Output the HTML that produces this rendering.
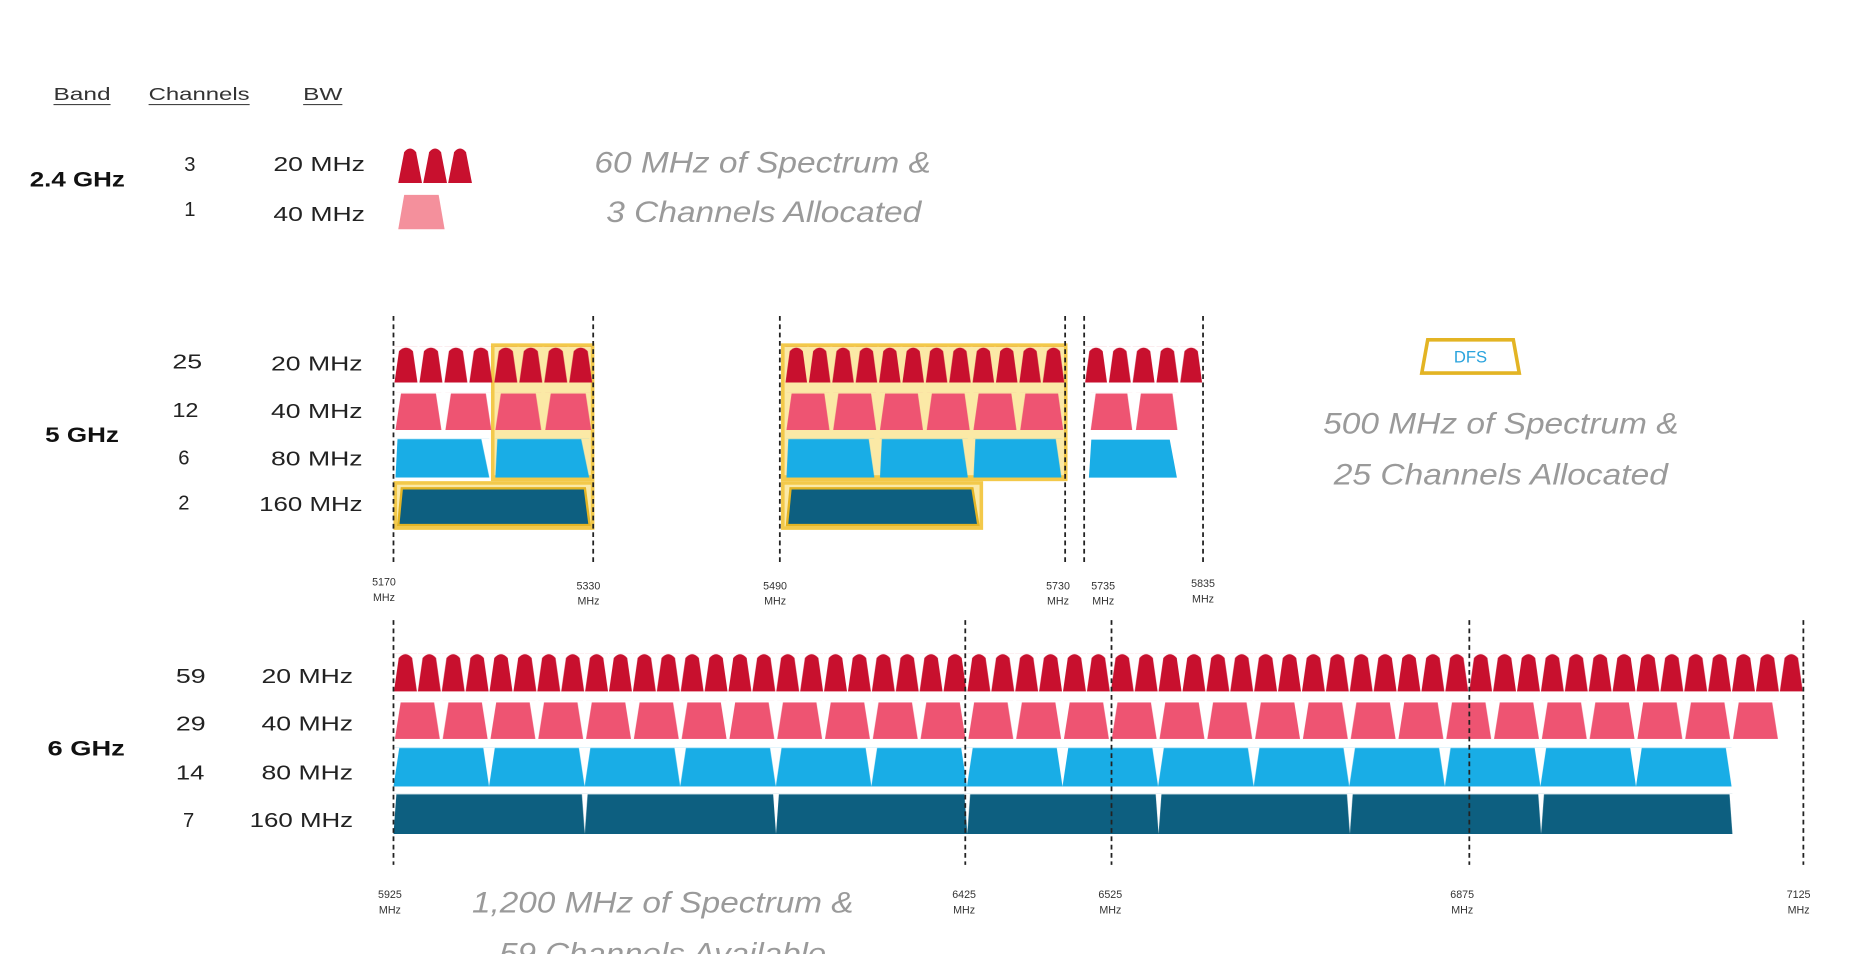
<!DOCTYPE html>
<html><head><meta charset="utf-8"><style>
html,body{margin:0;padding:0;background:#fff;overflow:hidden}
svg{display:block}
text{font-family:"Liberation Sans",Arial,sans-serif}
</style></head><body>
<svg width="1864" height="954" viewBox="0 0 1568 803" preserveAspectRatio="none" xmlns="http://www.w3.org/2000/svg">
<defs>
<pattern id="p6a" patternUnits="userSpaceOnUse" x="331" y="550" width="20.1" height="32" viewBox="0 0 100 100" preserveAspectRatio="none"><path d="M2,100 L22,12 Q50,-8 78,12 L98,100 Z" fill="#c8102e"/></pattern>
<pattern id="p6b" patternUnits="userSpaceOnUse" x="331" y="590" width="40.2" height="32" viewBox="0 0 100 100" preserveAspectRatio="none"><path d="M3,100 L15,4 L85,4 L97,100 Z" fill="#ee5472"/></pattern>
<pattern id="p6c" patternUnits="userSpaceOnUse" x="331" y="629" width="80.4" height="33" viewBox="0 0 100 100" preserveAspectRatio="none"><path d="M0,100 L6,2 L94,2 L100,100 Z" fill="#19ade6"/></pattern>
<pattern id="p6d" patternUnits="userSpaceOnUse" x="331" y="668" width="160.9" height="34" viewBox="0 0 100 100" preserveAspectRatio="none"><path d="M0,100 L1.5,2 L98.5,2 L100,100 Z" fill="#0d5f80"/></pattern>
<pattern id="p1a" patternUnits="userSpaceOnUse" x="331" y="292" width="21" height="30" viewBox="0 0 100 100" preserveAspectRatio="none"><path d="M4,100 L22,12 Q50,-8 78,12 L96,100 Z" fill="#c8102e"/></pattern>
<pattern id="p1b" patternUnits="userSpaceOnUse" x="331" y="330" width="42" height="32" viewBox="0 0 100 100" preserveAspectRatio="none"><path d="M4,100 L15,4 L85,4 L96,100 Z" fill="#ee5472"/></pattern>
<pattern id="p1c" patternUnits="userSpaceOnUse" x="331" y="369" width="84" height="33" viewBox="0 0 100 100" preserveAspectRatio="none"><path d="M2,100 L4,2 L88,2 L96,100 Z" fill="#19ade6"/></pattern>
<pattern id="p2a" patternUnits="userSpaceOnUse" x="660" y="292" width="19.67" height="30" viewBox="0 0 100 100" preserveAspectRatio="none"><path d="M4,100 L22,12 Q50,-8 78,12 L96,100 Z" fill="#c8102e"/></pattern>
<pattern id="p2b" patternUnits="userSpaceOnUse" x="660" y="330" width="39.33" height="32" viewBox="0 0 100 100" preserveAspectRatio="none"><path d="M4,100 L15,4 L85,4 L96,100 Z" fill="#ee5472"/></pattern>
<pattern id="p2c" patternUnits="userSpaceOnUse" x="660" y="369" width="78.67" height="33" viewBox="0 0 100 100" preserveAspectRatio="none"><path d="M2,100 L4,2 L90,2 L96,100 Z" fill="#19ade6"/></pattern>
<pattern id="p3a" patternUnits="userSpaceOnUse" x="912" y="292" width="20" height="30" viewBox="0 0 100 100" preserveAspectRatio="none"><path d="M4,100 L22,12 Q50,-8 78,12 L96,100 Z" fill="#c8102e"/></pattern>
<pattern id="p3b" patternUnits="userSpaceOnUse" x="916" y="330" width="38" height="32" viewBox="0 0 100 100" preserveAspectRatio="none"><path d="M4,100 L15,4 L85,4 L96,100 Z" fill="#ee5472"/></pattern>
</defs>

<g font-size="15" fill="#333" lengthAdjust="spacingAndGlyphs">
<text x="45" y="84" textLength="48" lengthAdjust="spacingAndGlyphs">Band</text><line x1="45" y1="88" x2="93" y2="88" stroke="#444"/>
<text x="125" y="84" textLength="85" lengthAdjust="spacingAndGlyphs">Channels</text><line x1="125" y1="88" x2="210" y2="88" stroke="#444"/>
<text x="255" y="84" textLength="33" lengthAdjust="spacingAndGlyphs">BW</text><line x1="255" y1="88" x2="288" y2="88" stroke="#444"/>
</g>

<text x="25" y="157" font-size="18" font-weight="bold" fill="#111" textLength="80" lengthAdjust="spacingAndGlyphs">2.4 GHz</text>
<g font-size="17" fill="#222">
<text x="155" y="144">3</text><text x="155" y="182">1</text>
<text x="230" y="144" textLength="77" lengthAdjust="spacingAndGlyphs">20 MHz</text><text x="230" y="186" textLength="77" lengthAdjust="spacingAndGlyphs">40 MHz</text>
</g>
<g fill="#c8102e">
<path d="M335,154 L340,128 Q345,122 350,128 L355,154 Z"/>
<path d="M356,154 L361,128 Q366,122 371,128 L376,154 Z"/>
<path d="M377,154 L382,128 Q387,122 392,128 L397,154 Z"/>
</g>
<path d="M335,193 L340,164 L369,164 L374,193 Z" fill="#f4909c"/>
<g font-size="25" font-style="italic" fill="#9a9a9a">
<text x="500" y="145" textLength="283" lengthAdjust="spacingAndGlyphs">60 MHz of Spectrum &amp;</text>
<text x="510" y="187" textLength="265" lengthAdjust="spacingAndGlyphs">3 Channels Allocated</text>
</g>

<text x="38" y="372" font-size="18" font-weight="bold" fill="#111" textLength="62" lengthAdjust="spacingAndGlyphs">5 GHz</text>
<g font-size="17" fill="#222">
<text x="145" y="310" textLength="25" lengthAdjust="spacingAndGlyphs">25</text><text x="145" y="351" textLength="22" lengthAdjust="spacingAndGlyphs">12</text><text x="150" y="391">6</text><text x="150" y="429">2</text>
<text x="228" y="312" textLength="77" lengthAdjust="spacingAndGlyphs">20 MHz</text><text x="228" y="352" textLength="77" lengthAdjust="spacingAndGlyphs">40 MHz</text><text x="228" y="392" textLength="77" lengthAdjust="spacingAndGlyphs">80 MHz</text><text x="218" y="430" textLength="87" lengthAdjust="spacingAndGlyphs">160 MHz</text>
</g>
<g fill="#f3c94a">
<rect x="413" y="289" width="87" height="116"/>
<rect x="331" y="405" width="169" height="41"/>
<rect x="657" y="289" width="241" height="116"/>
<rect x="657" y="405" width="170" height="41"/>
</g>
<g fill="#fbe9a6">
<rect x="416" y="292" width="81" height="108"/>
<rect x="334" y="408" width="163" height="35"/>
<rect x="660" y="292" width="235" height="108"/>
<rect x="660" y="408" width="164" height="35"/>
</g>
<rect x="331" y="292" width="168" height="30" fill="url(#p1a)"/>
<rect x="331" y="330" width="168" height="32" fill="url(#p1b)"/>
<rect x="331" y="369" width="168" height="33" fill="url(#p1c)"/>
<path d="M335,442 L338,411 L492,411 L496,442 Z" fill="#0d5f80" stroke="#e3b424" stroke-width="2"/>
<rect x="660" y="292" width="236" height="30" fill="url(#p2a)"/>
<rect x="660" y="330" width="236" height="32" fill="url(#p2b)"/>
<rect x="660" y="369" width="236" height="33" fill="url(#p2c)"/>
<path d="M662,442 L665,411 L818,411 L823,442 Z" fill="#0d5f80" stroke="#e3b424" stroke-width="2"/>
<rect x="912" y="292" width="100" height="30" fill="url(#p3a)"/>
<rect x="916" y="330" width="76" height="32" fill="url(#p3b)"/>
<path d="M916,402 L918,370 L984,370 L990,402 Z" fill="#19ade6"/>
<g stroke="#222" stroke-width="1.5" stroke-dasharray="4 3">
<line x1="331" y1="266" x2="331" y2="475"/><line x1="499" y1="266" x2="499" y2="475"/>
<line x1="656" y1="266" x2="656" y2="475"/><line x1="896" y1="266" x2="896" y2="475"/>
<line x1="912" y1="266" x2="912" y2="475"/><line x1="1012" y1="266" x2="1012" y2="475"/>
</g>
<g font-size="9" fill="#333" text-anchor="middle">
<text x="323" y="493">5170</text><text x="323" y="506">MHz</text>
<text x="495" y="496">5330</text><text x="495" y="509">MHz</text>
<text x="652" y="496">5490</text><text x="652" y="509">MHz</text>
<text x="890" y="496">5730</text><text x="890" y="509">MHz</text>
<text x="928" y="496">5735</text><text x="928" y="509">MHz</text>
<text x="1012" y="494">5835</text><text x="1012" y="507">MHz</text>
</g>
<path d="M1196,314 L1201,286 L1273,286 L1278,314 Z" fill="#fff" stroke="#e3b424" stroke-width="3"/>
<text x="1237" y="305" font-size="14" fill="#2aa3dd" text-anchor="middle">DFS</text>
<g font-size="25" font-style="italic" fill="#9a9a9a">
<text x="1113" y="365" textLength="299" lengthAdjust="spacingAndGlyphs">500 MHz of Spectrum &amp;</text>
<text x="1122" y="408" textLength="281" lengthAdjust="spacingAndGlyphs">25 Channels Allocated</text>
</g>

<text x="40" y="636" font-size="18" font-weight="bold" fill="#111" textLength="65" lengthAdjust="spacingAndGlyphs">6 GHz</text>
<g font-size="17" fill="#222">
<text x="148" y="575" textLength="25" lengthAdjust="spacingAndGlyphs">59</text><text x="148" y="615" textLength="25" lengthAdjust="spacingAndGlyphs">29</text><text x="148" y="656" textLength="24" lengthAdjust="spacingAndGlyphs">14</text><text x="154" y="696">7</text>
<text x="220" y="575" textLength="77" lengthAdjust="spacingAndGlyphs">20 MHz</text><text x="220" y="615" textLength="77" lengthAdjust="spacingAndGlyphs">40 MHz</text><text x="220" y="656" textLength="77" lengthAdjust="spacingAndGlyphs">80 MHz</text><text x="210" y="696" textLength="87" lengthAdjust="spacingAndGlyphs">160 MHz</text>
</g>
<rect x="331" y="550" width="1186" height="32" fill="url(#p6a)"/>
<rect x="331" y="590" width="1166" height="32" fill="url(#p6b)"/>
<rect x="331" y="629" width="1125.6" height="33" fill="url(#p6c)"/>
<rect x="331" y="668" width="1126.3" height="34" fill="url(#p6d)"/>
<g stroke="#222" stroke-width="1.5" stroke-dasharray="4 3">
<line x1="331" y1="522" x2="331" y2="728"/><line x1="812" y1="522" x2="812" y2="728"/>
<line x1="935" y1="522" x2="935" y2="728"/><line x1="1236" y1="522" x2="1236" y2="728"/>
<line x1="1517" y1="522" x2="1517" y2="728"/>
</g>
<g font-size="9" fill="#333" text-anchor="middle">
<text x="328" y="756">5925</text><text x="328" y="769">MHz</text>
<text x="811" y="756">6425</text><text x="811" y="769">MHz</text>
<text x="934" y="756">6525</text><text x="934" y="769">MHz</text>
<text x="1230" y="756">6875</text><text x="1230" y="769">MHz</text>
<text x="1513" y="756">7125</text><text x="1513" y="769">MHz</text>
</g>
<g font-size="25" font-style="italic" fill="#9a9a9a">
<text x="397" y="768" textLength="321" lengthAdjust="spacingAndGlyphs">1,200 MHz of Spectrum &amp;</text>
<text x="420" y="811" textLength="275" lengthAdjust="spacingAndGlyphs">59 Channels Available</text>
</g>
</svg>
</body></html>
